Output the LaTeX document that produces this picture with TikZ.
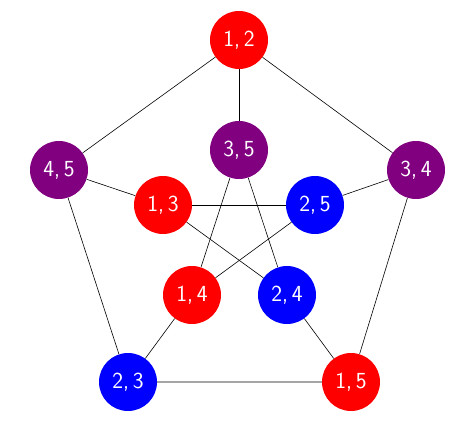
\documentclass[tikz,border=0pt]{standalone}
\begin{document}
\begin{tikzpicture}[x=1pt,y=-1pt,
  v/.style={circle,minimum size=58pt,inner sep=0pt,text=white,font=\fontsize{23}{26}\selectfont\sffamily},
  vr/.style={v,fill=red},
  vb/.style={v,fill=blue},
  vp/.style={v,fill={rgb,255:red,128;green,0;blue,128}},
  e/.style={draw=black,line width=0.6pt}]
\useasboundingbox (0,0) rectangle (471,438);
\node[vr] (a12) at (239,40) {1,\,2};
\node[vp] (a34) at (416,170) {3,\,4};
\node[vr] (a15) at (351,382) {1,\,5};
\node[vb] (a23) at (128,382) {2,\,3};
\node[vp] (a45) at (59,170) {4,\,5};
\node[vp] (a35) at (239,150) {3,\,5};
\node[vb] (a25) at (315,205) {2,\,5};
\node[vb] (a24) at (287,295) {2,\,4};
\node[vr] (a14) at (192,295) {1,\,4};
\node[vr] (a13) at (163,205) {1,\,3};
\draw[e] (a12) -- (a34) -- (a15) -- (a23) -- (a45) -- (a12);
\draw[e] (a12) -- (a35);
\draw[e] (a34) -- (a25);
\draw[e] (a15) -- (a24);
\draw[e] (a23) -- (a14);
\draw[e] (a45) -- (a13);
\draw[e] (a35) -- (a14);
\draw[e] (a35) -- (a24);
\draw[e] (a13) -- (a25);
\draw[e] (a13) -- (a24);
\draw[e] (a25) -- (a14);
\end{tikzpicture}
\end{document}
